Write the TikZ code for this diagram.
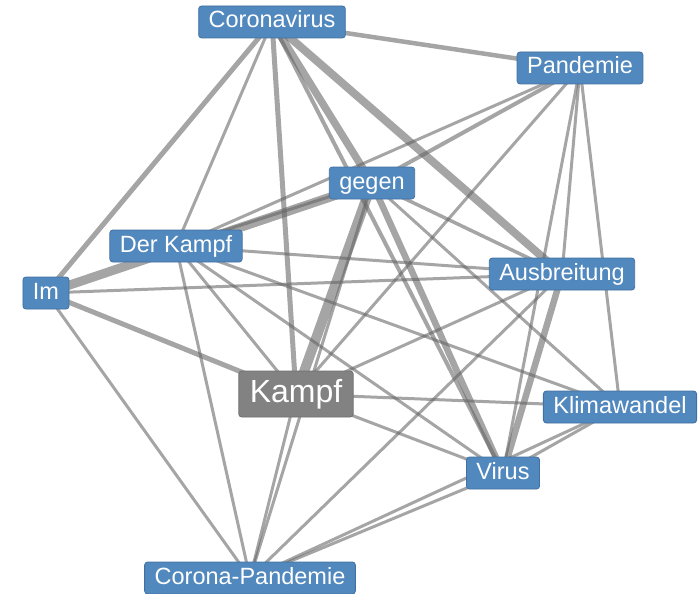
\documentclass[tikz,border=0pt]{standalone}
\usepackage{fontspec}
\setmainfont{Liberation Sans}
\usetikzlibrary{backgrounds}
\definecolor{nodeblue}{RGB}{81,136,190}
\definecolor{nodeedge}{RGB}{66,112,160}
\definecolor{kampfgray}{RGB}{130,130,130}
\definecolor{kampfedge}{RGB}{112,112,112}
\definecolor{linkgray}{RGB}{100,100,100}
\tikzset{
  wordbox/.style={rectangle, rounded corners=3pt, fill=nodeblue, draw=nodeedge, line width=0.8pt,
    text=white, font=\fontsize{23.5}{23.5}\selectfont, inner xsep=10pt, inner ysep=5pt,
    text height=17pt, text depth=5pt},
  centerbox/.style={wordbox, fill=kampfgray, draw=kampfedge, font=\fontsize{32}{32}\selectfont,
    inner xsep=11pt, text height=24pt, text depth=8pt, inner ysep=7pt},
  lnk/.style={draw=linkgray, draw opacity=0.58, line width=#1},
  lnk/.default=3pt
}
\begin{document}
\begin{tikzpicture}[x=1pt, y=-1pt]
\useasboundingbox (0,0) rectangle (699,594);
\node[wordbox] (corv) at (272,22) {Coronavirus};
\node[wordbox] (pand) at (580,68) {Pandemie};
\node[wordbox] (gegen) at (372,183) {gegen};
\node[wordbox] (derk) at (176,246) {Der Kampf};
\node[wordbox] (im) at (46,293) {Im};
\node[wordbox] (ausb) at (562,274) {Ausbreitung};
\node[centerbox] (kampf) at (296,394) {Kampf};
\node[wordbox] (klima) at (620,407) {Klimawandel};
\node[wordbox] (virus) at (503,473) {Virus};
\node[wordbox] (copa) at (250,578) {Corona-Pandemie};
\begin{scope}[on background layer]
\draw[lnk=5pt] (corv.center) -- (im.center);
\draw[lnk] (corv.center) -- (derk.center);
\draw[lnk=5pt] (corv.center) -- (kampf.center);
\draw[lnk=7.5pt] (corv.center) -- (gegen.center);
\draw[lnk=4pt] (corv.center) -- (virus.center);
\draw[lnk=8pt] (corv.center) -- (ausb.center);
\draw[lnk=4.5pt] (corv.center) -- (pand.center);
\draw[lnk] (pand.center) -- (derk.center);
\draw[lnk=4pt] (pand.center) -- (gegen.center);
\draw[lnk] (pand.center) -- (kampf.center);
\draw[lnk] (pand.center) -- (ausb.center);
\draw[lnk] (pand.center) -- (virus.center);
\draw[lnk] (pand.center) -- (klima.center);
\draw[lnk=9pt] (gegen.center) -- (im.center);
\draw[lnk] (gegen.center) -- (derk.center);
\draw[lnk=10pt] (gegen.center) -- (kampf.center);
\draw[lnk=3.5pt] (gegen.center) -- (ausb.center);
\draw[lnk] (gegen.center) -- (klima.center);
\draw[lnk=6.5pt] (gegen.center) -- (virus.center);
\draw[lnk] (gegen.center) -- (copa.center);
\draw[lnk] (derk.center) -- (ausb.center);
\draw[lnk] (derk.center) -- (kampf.center);
\draw[lnk] (derk.center) -- (klima.center);
\draw[lnk] (derk.center) -- (virus.center);
\draw[lnk] (derk.center) -- (copa.center);
\draw[lnk] (im.center) -- (ausb.center);
\draw[lnk=5pt] (im.center) -- (kampf.center);
\draw[lnk] (im.center) -- (copa.center);
\draw[lnk] (ausb.center) -- (kampf.center);
\draw[lnk=6.5pt] (ausb.center) -- (virus.center);
\draw[lnk] (ausb.center) -- (copa.center);
\draw[lnk] (kampf.center) -- (klima.center);
\draw[lnk] (kampf.center) -- (virus.center);
\draw[lnk] (kampf.center) -- (copa.center);
\draw[lnk] (klima.center) -- (virus.center);
\draw[lnk] (klima.center) -- (copa.center);
\draw[lnk] (virus.center) -- (copa.center);
\end{scope}
\end{tikzpicture}
\end{document}
